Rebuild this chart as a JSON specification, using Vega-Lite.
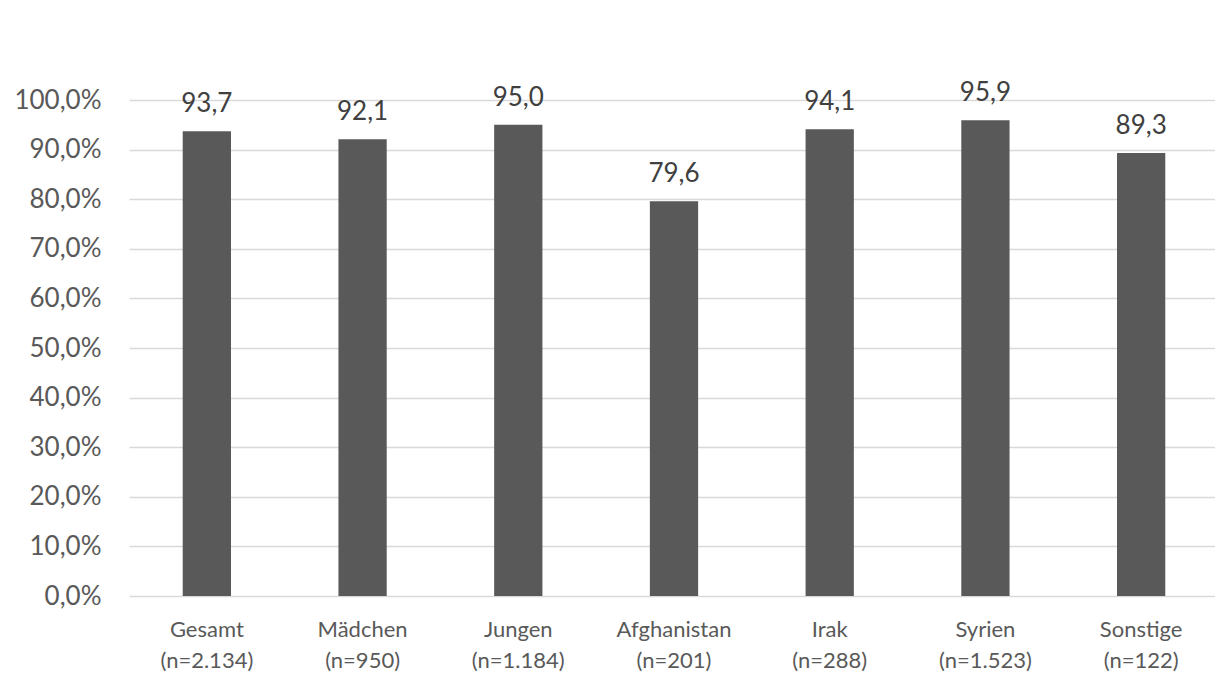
{
  "$schema": "https://vega.github.io/schema/vega-lite/v6.json",
  "autosize": "none",
  "width": 1090,
  "height": 496,
  "padding": {"left": 129, "top": 100, "right": 0, "bottom": 92},
  "background": "white",
  "config": {
    "view": {"stroke": null},
    "locale": {"number": {"decimal": ",", "thousands": ".", "grouping": [3], "currency": ["", " €"]}},
    "font": "Lato"
  },
  "data": {
    "values": [
      {"kategorie": "Gesamt (n=2.134)", "wert": 93.7},
      {"kategorie": "Mädchen (n=950)", "wert": 92.1},
      {"kategorie": "Jungen (n=1.184)", "wert": 95.0},
      {"kategorie": "Afghanistan (n=201)", "wert": 79.6},
      {"kategorie": "Irak (n=288)", "wert": 94.1},
      {"kategorie": "Syrien (n=1.523)", "wert": 95.9},
      {"kategorie": "Sonstige (n=122)", "wert": 89.3}
    ]
  },
  "encoding": {
    "x": {
      "field": "kategorie",
      "type": "nominal",
      "sort": null,
      "scale": {"paddingInner": 0.69, "paddingOuter": 0.345},
      "axis": {
        "title": null,
        "labelAngle": 0,
        "domain": false,
        "ticks": false,
        "labelFont": "Lato",
        "labelFontSize": 22,
        "labelColor": "#595959",
        "labelPadding": 23,
        "labelLineHeight": 31,
        "labelExpr": "split(datum.label, ' ')"
      }
    },
    "y": {
      "field": "wert",
      "type": "quantitative",
      "scale": {"domain": [0, 100], "nice": false},
      "axis": {
        "title": null,
        "values": [0, 10, 20, 30, 40, 50, 60, 70, 80, 90, 100],
        "labelExpr": "format(datum.value, '.1f') + '%'",
        "domain": false,
        "ticks": false,
        "grid": true,
        "gridColor": "#d9d9d9",
        "gridWidth": 1.5,
        "labelFont": "Lato",
        "labelFontSize": 26,
        "labelColor": "#595959",
        "labelPadding": 28
      }
    }
  },
  "layer": [
    {"mark": {"type": "bar", "color": "#595959"}},
    {
      "mark": {"type": "text", "baseline": "alphabetic", "dy": -19, "font": "Lato", "fontSize": 26, "color": "#404040"},
      "encoding": {"text": {"field": "wert", "type": "quantitative", "format": ".1f"}}
    }
  ]
}
